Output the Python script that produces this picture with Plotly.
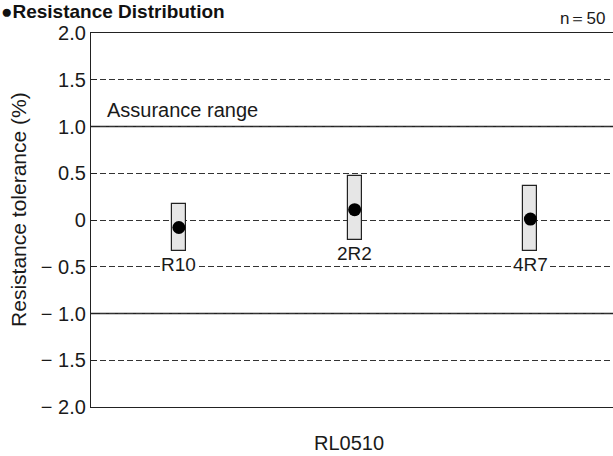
import plotly.graph_objects as go

categories = ["R10", "2R2", "4R7"]
low_vals = [-0.33, -0.21, -0.33]
high_vals = [0.17, 0.47, 0.36]
mean_vals = [-0.08, 0.11, 0.01]
assurance = [1.0, -1.0]
tick_vals = [2.0, 1.5, 1.0, 0.5, 0, -0.5, -1.0, -1.5, -2.0]
tick_text = ["2.0", "1.5", "1.0", "0.5", "0", "\u2212 0.5", "\u2212 1.0", "\u2212 1.5", "\u2212 2.0"]

FONT = "Liberation Sans, Arial, Helvetica, sans-serif"
TXT = "#1a1a1a"
xpos = list(range(len(categories)))

fig = go.Figure()
fig.add_trace(go.Bar(
    x=xpos, y=[h - l for h, l in zip(high_vals, low_vals)], base=low_vals,
    width=0.08, marker=dict(color="#e6e6e6", line=dict(color="#222222", width=1.2)),
    showlegend=False, hoverinfo="skip"))
fig.add_trace(go.Scatter(
    x=xpos, y=mean_vals, mode="markers",
    marker=dict(color="black", size=13), showlegend=False))

for v in assurance:
    fig.add_shape(type="line", xref="paper", x0=0, x1=1, yref="y", y0=v, y1=v,
                  line=dict(color="#222222", width=1.3), layer="below")

for i, (c, l) in enumerate(zip(categories, low_vals)):
    fig.add_annotation(x=i, y=l, text=c, showarrow=False, yanchor="top", yshift=-2,
                       font=dict(size=19, color=TXT, family=FONT), bgcolor="white", borderpad=0)

fig.add_annotation(xref="paper", x=0, xshift=14, xanchor="left", y=assurance[0], yanchor="bottom",
                   yshift=4, text="Assurance range", showarrow=False,
                   font=dict(size=20, color=TXT, family=FONT))
fig.add_annotation(xref="paper", x=1, xanchor="right", xshift=-6, yref="paper", y=1, yanchor="bottom",
                   yshift=3, text="n\uff1d50", showarrow=False,
                   font=dict(size=17, color=TXT, family=FONT))
fig.add_annotation(xref="paper", x=0, xshift=-91, xanchor="left", yref="paper", y=1, yanchor="top",
                   yshift=33, text="<b>\u25cfResistance Distribution</b>", showarrow=False,
                   font=dict(size=19, color="#111111", family=FONT), borderpad=0)
fig.add_annotation(xref="paper", x=0.495, xanchor="center", yref="paper", y=0, yanchor="top",
                   yshift=-24, text="RL0510", showarrow=False,
                   font=dict(size=20, color=TXT, family=FONT), borderpad=0)
fig.add_annotation(xref="paper", x=0, xshift=-72, xanchor="center", yref="paper", y=0.527,
                   yanchor="middle", textangle=-90, text="Resistance tolerance (%)", showarrow=False,
                   font=dict(size=21, color=TXT, family=FONT))

fig.update_layout(
    width=613, height=456, margin=dict(l=91, r=0, t=33, b=49, autoexpand=False),
    paper_bgcolor="white", plot_bgcolor="white", bargap=0,
    font=dict(family=FONT, color=TXT),
    xaxis=dict(range=[-0.5, 2.47], showticklabels=False, ticks="", showgrid=False,
               zeroline=False, showline=True, linecolor="#222222", linewidth=1.3, mirror=True),
    yaxis=dict(range=[-2.0, 2.0], tickvals=tick_vals, ticktext=tick_text,
               ticks="inside", ticklen=6, tickcolor="#222222",
               tickfont=dict(size=20, color=TXT),
               showgrid=True, gridcolor="#333333", gridwidth=1, griddash="6px,3px",
               zeroline=False, showline=True, linecolor="#222222", linewidth=1.3),
)

post = ("document.body.style.margin='0';document.body.style.padding='0';"
        "document.documentElement.style.overflow='hidden';"
        "var gd=document.getElementById('{plot_id}');Plotly.Plots.resize(gd);")
fig.write_html("out.html", post_script=post, config={"displayModeBar": False})
